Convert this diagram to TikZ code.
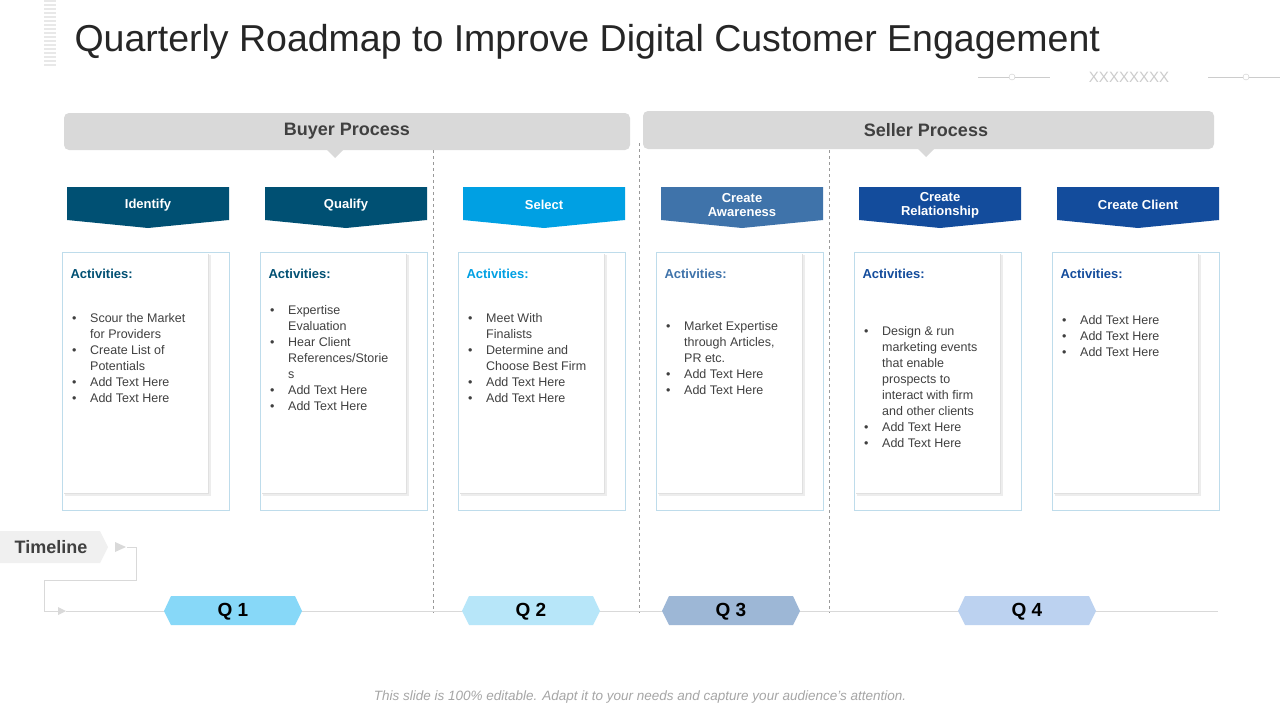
\documentclass[tikz,border=0pt]{standalone}
\usepackage{fontspec}
\setmainfont{Liberation Sans}
\usetikzlibrary{calc}
\definecolor{cA}{RGB}{0,80,115}
\definecolor{cB}{RGB}{0,160,227}
\definecolor{cC}{RGB}{63,115,170}
\definecolor{cD}{RGB}{19,76,156}
\definecolor{txt}{RGB}{64,64,64}
\definecolor{barg}{RGB}{217,217,217}
\definecolor{cardb}{RGB}{190,220,235}
\tikzset{
 hdr/.style={font=\bfseries\fontsize{13}{14}\selectfont, text=white, align=center},
 acttitle/.style={font=\bfseries\fontsize{13}{15}\selectfont, anchor=north west},
 body/.style={font=\fontsize{12.5}{16}\selectfont, text=txt, anchor=north west, align=left, inner sep=0pt},
 qlab/.style={font=\bfseries\fontsize{19}{20}\selectfont},
 dsh/.style={draw=gray!80, dashed, line width=0.6pt},
 tl/.style={draw=gray!30, line width=1pt}
}
\newcommand{\bl}{\makebox[18pt][l]{\textbullet}}
\newcommand{\ind}{\hspace*{18pt}}
\begin{document}
\begin{tikzpicture}[x=1pt,y=-1pt]
\useasboundingbox (0,0) rectangle (1280,720);
\fill[white] (0,0) rectangle (1280,720);
\foreach \y in {0,4,...,64} \fill[gray!18] (44,\y) rectangle (56,\y+2);
\node[anchor=west, font=\fontsize{37.5}{40}\selectfont, text=black!85] (title) at (71,42) {Quarterly Roadmap to Improve Digital Customer Engagement};
\draw[gray!40] (978,77) -- (1050,77); \draw[gray!40, fill=white] (1012,77) circle (3);
\node[text=gray!40, font=\fontsize{15}{15}\selectfont] (xx) at (1129,77) {XXXXXXXX};
\draw[gray!40] (1208,77) -- (1280,77); \draw[gray!40, fill=white] (1246,77) circle (3);
\fill[barg, rounded corners=5] (64,113) rectangle (630,150);
\fill[barg] (327,150) -- (343,150) -- (335,158) -- cycle;
\node[font=\bfseries\fontsize{18}{20}\selectfont, text=txt] (buyer) at (347,131) {Buyer Process};
\fill[barg, rounded corners=5] (643,111) rectangle (1214,149);
\fill[barg] (918,149) -- (934,149) -- (926,157) -- cycle;
\node[font=\bfseries\fontsize{18}{20}\selectfont, text=txt] (seller) at (926,130) {Seller Process};
\draw[dsh] (433,150) -- (433,613);
\draw[dsh] (639,143) -- (639,613);
\draw[dsh] (829,150) -- (829,613);
\foreach \i/\col/\lab in {0/cA/Identify,1/cA/Qualify,2/cB/Select,3/cC/{Create\\Awareness},4/cD/{Create\\Relationship},5/cD/Create Client}{
  \pgfmathsetmacro{\x}{62+198*\i}
  \fill[\col] (\x+5,187) -- (\x+167,187) -- (\x+167,220) -- (\x+86,228) -- (\x+5,220) -- cycle;
  \node[hdr] (h\i) at (\x+86,205) {\lab};
  \fill[black!7] (\x+3,255) rectangle (\x+149,496);
  \fill[black!12] (\x+2,254) rectangle (\x+147,494);
  \fill[white] (\x,252) rectangle (\x+146,493);
  \draw[cardb, line width=0.8pt] (\x,252) rectangle (\x+167,510);
  \node[acttitle, text=\col] (a\i) at (\x+5,266) {Activities:};
}
\node[body] (b0) at (72,313) {\bl Scour the Market\\\ind for Providers\\\bl Create List of\\\ind Potentials\\\bl Add Text Here\\\bl Add Text Here};
\node[body] (b1) at (270,305) {\bl Expertise\\\ind Evaluation\\\bl Hear Client\\\ind References/Storie\\\ind s\\\bl Add Text Here\\\bl Add Text Here};
\node[body] (b2) at (468,313) {\bl Meet With\\\ind Finalists\\\bl Determine and\\\ind Choose Best Firm\\\bl Add Text Here\\\bl Add Text Here};
\node[body] (b3) at (666,321) {\bl Market Expertise\\\ind through Articles,\\\ind PR etc.\\\bl Add Text Here\\\bl Add Text Here};
\node[body] (b4) at (864,326) {\bl Design \& run\\\ind marketing events\\\ind that enable\\\ind prospects to\\\ind interact with firm\\\ind and other clients\\\bl Add Text Here\\\bl Add Text Here};
\node[body] (b5) at (1062,315) {\bl Add Text Here\\\bl Add Text Here\\\bl Add Text Here};
\fill[gray!12] (0,531) -- (100,531) -- (108,547) -- (100,563) -- (0,563) -- cycle;
\node[font=\bfseries\fontsize{18}{20}\selectfont, text=txt] (tlab) at (51,547) {Timeline};
\fill[gray!30] (115,542) -- (126,547) -- (115,552) -- cycle;
\coordinate (t0) at (127,547);
\coordinate (t1) at (66,611);
\coordinate (t2) at (1218,611);
\draw[tl] (t0) -- (136,547) -- (136,580) -- (44,580) -- (44,611) -- (58,611);
\fill[gray!30] (58,607) -- (66,611) -- (58,615) -- cycle;
\draw[tl] (t1) -- (t2);
\definecolor{q1}{RGB}{135,216,248}\definecolor{q2}{RGB}{183,230,249}
\definecolor{q3}{RGB}{157,183,214}\definecolor{q4}{RGB}{188,210,240}
\foreach \n/\xa in {1/164,2/462,3/662,4/958}{
  \fill[q\n] (\xa,611) -- (\xa+7,596) -- (\xa+131,596) -- (\xa+138,611) -- (\xa+131,625) -- (\xa+7,625) -- cycle;
  \node[qlab] (q\n) at (\xa+69,612) {Q \n};
}
\node[font=\itshape\fontsize{13.5}{15}\selectfont, text=gray!70] (foot) at (640,697) {This slide is 100\% editable. Adapt it to your needs and capture your audience's attention.};
\end{tikzpicture}
\end{document}
